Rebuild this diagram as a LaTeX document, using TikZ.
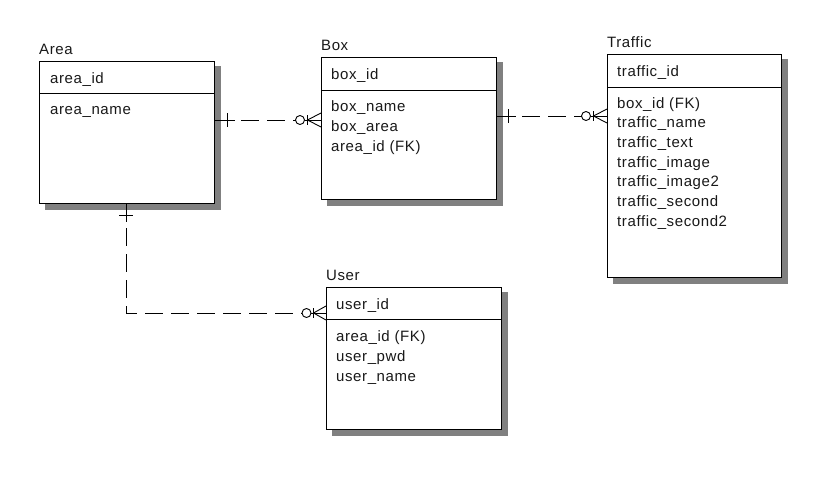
\documentclass[tikz,border=0pt]{standalone}
\usepackage{fontspec}
\setmainfont{Liberation Sans}[LetterSpace=4]
\usetikzlibrary{backgrounds}
\begin{document}
\begin{tikzpicture}[x=1pt,y=-1pt,
  entity/.style={draw=black, line width=0.9pt, fill=white, anchor=north west, inner sep=0pt},
  shade/.style={fill=black!50},
  txt/.style={anchor=base west, inner sep=0pt, font=\fontsize{15}{18}\selectfont, text=black!90},
  rel/.style={line width=0.9pt, dash pattern=on 18pt off 8pt},
  solidline/.style={line width=0.9pt},
  divider/.style={line width=0.9pt}]
\useasboundingbox (0,0) rectangle (837,482);

% ---------- entities ----------
\node[entity, minimum width=175pt, minimum height=142pt] (area) at (39,61) {};
\node[entity, minimum width=175pt, minimum height=142pt] (box) at (321,57) {};
\node[entity, minimum width=174pt, minimum height=223pt] (traffic) at (607,54) {};
\node[entity, minimum width=175pt, minimum height=142pt] (user) at (326,287) {};

% shadows
\begin{scope}[on background layer]
  \foreach \e in {area,box,traffic,user}{
    \fill[shade] ([shift={(6pt,-5pt)}]\e.north west) rectangle ([shift={(6pt,-6pt)}]\e.south east);
  }
\end{scope}

% dividers
\draw[divider] (39,93) -- (214,93);
\draw[divider] (321,90) -- (496,90);
\draw[divider] (607,87) -- (781,87);
\draw[divider] (326,319) -- (501,319);

% ---------- titles ----------
\node[txt] (tarea) at (39,54) {Area};
\node[txt] (tbox) at (321,50) {Box};
\node[txt] (ttraffic) at (607,47) {Traffic};
\node[txt] (tuser) at (326,280) {User};

% ---------- Area ----------
\node[txt] (a1) at (50,83) {area\_id};
\node[txt] (a2) at (50,114) {area\_name};

% ---------- Box ----------
\node[txt] (b1) at (331,79) {box\_id};
\node[txt] (b2) at (331,111) {box\_name};
\node[txt] (b3) at (331,131) {box\_area};
\node[txt] (b4) at (331,151) {area\_id (FK)};

% ---------- Traffic ----------
\node[txt] (t1) at (617,76) {traffic\_id};
\node[txt] (t2) at (617,108) {box\_id (FK)};
\node[txt] (t3) at (617,127.7) {traffic\_name};
\node[txt] (t4) at (617,147.4) {traffic\_text};
\node[txt] (t5) at (617,167.1) {traffic\_image};
\node[txt] (t6) at (617,186.8) {traffic\_image2};
\node[txt] (t7) at (617,206.5) {traffic\_second};
\node[txt] (t8) at (617,226.2) {traffic\_second2};

% ---------- User ----------
\node[txt] (u1) at (336,309) {user\_id};
\node[txt] (u2) at (336,341) {area\_id (FK)};
\node[txt] (u3) at (336,361) {user\_pwd};
\node[txt] (u4) at (336,381) {user\_name};

% ---------- Area -- Box ----------
\coordinate (ab) at (214,120);
\coordinate (ba) at (321,120);
\coordinate (abc) at (300,120);
\draw[solidline] (ab) -- (235,120);
\draw[rel] (241,120) -- (295.5,120);
\draw[solidline] (227,113) -- (227,127);
\draw[solidline] (abc) circle (4.5pt);
\draw[solidline] (304.5,120) -- (ba);
\draw[solidline] (307.5,115) -- (307.5,125);
\draw[solidline] (ba |- 0,113) -- (307.5,120) -- (ba |- 0,127);

% ---------- Box -- Traffic ----------
\coordinate (bt) at (496,116);
\coordinate (tb) at (607,116);
\coordinate (btc) at (586,116);
\draw[solidline] (bt) -- (516,116);
\draw[rel] (522,116) -- (581.5,116);
\draw[solidline] (508,109) -- (508,123);
\draw[solidline] (btc) circle (4.5pt);
\draw[solidline] (590.5,116) -- (tb);
\draw[solidline] (593.5,111) -- (593.5,121);
\draw[solidline] (tb |- 0,109) -- (593.5,116) -- (tb |- 0,123);

% ---------- Area -- User ----------
\coordinate (au) at (126,203);
\coordinate (ua) at (326,313);
\coordinate (auc) at (306.5,313);
\draw[solidline] (au) -- (126,222);
\draw[solidline] (119,215) -- (133,215);
\draw[rel] (126,228) -- (126,313) -- (302,313);
\draw[solidline] (auc) circle (4.5pt);
\draw[solidline] (311,313) -- (ua);
\draw[solidline] (313.5,308) -- (313.5,318);
\draw[solidline] (ua |- 0,306) -- (313.5,313) -- (ua |- 0,320);
\end{tikzpicture}
\end{document}
